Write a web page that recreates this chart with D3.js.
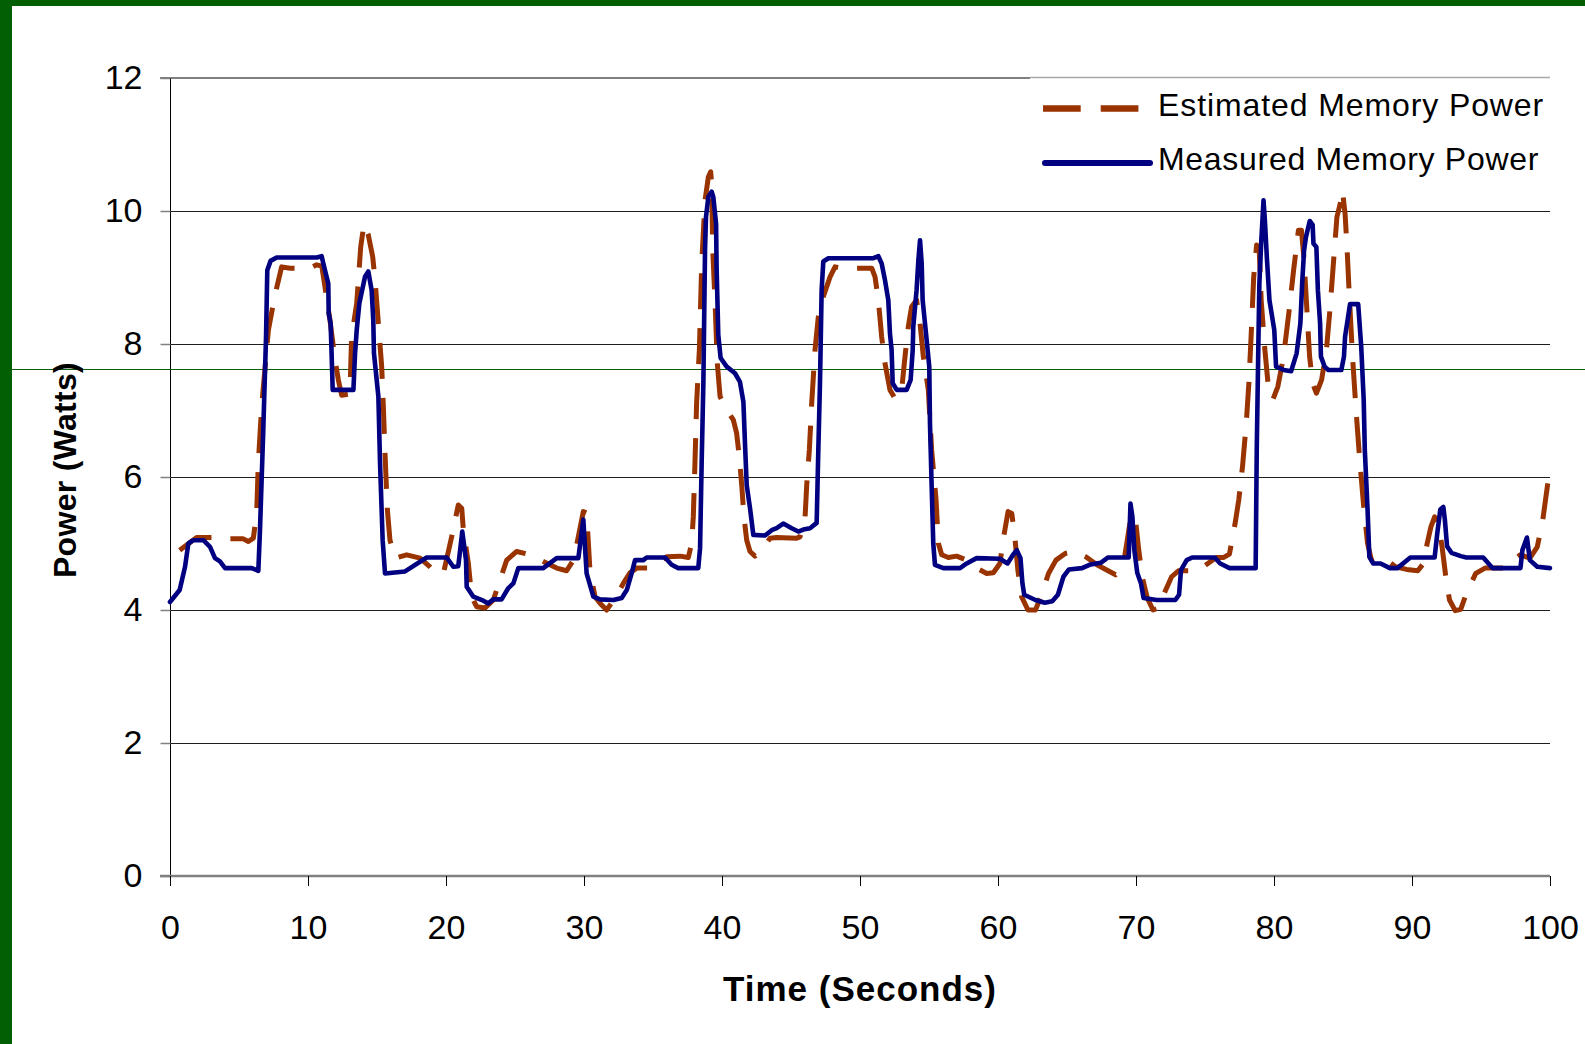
<!DOCTYPE html>
<html>
<head>
<meta charset="utf-8">
<script src="https://cdn.jsdelivr.net/npm/d3@7"></script>
<style>
  html, body { margin: 0; padding: 0; background: #ffffff; }
  svg { display: block; }
  text { font-family: "Liberation Sans", Arial, Helvetica, sans-serif; fill: #000; }
</style>
</head>
<body>
<svg id="chart" width="1585" height="1044"></svg>
<script>
// Axis ticks
const xTicks = [0, 10, 20, 30, 40, 50, 60, 70, 80, 90, 100];
const yTicks = [0, 2, 4, 6, 8, 10, 12];

// Series names
const seriesNames = ["Estimated Memory Power", "Measured Memory Power"];

// Estimated memory power (seconds, watts)
const estimatedSeconds = [
  0.7, 1.93, 3.38, 4.11, 5.31, 5.68, 6.04, 6.28, 6.4, 6.64, 7.13, 7.61, 8.09, 8.7, 10.14, 10.63, 11.0, 11.23, 11.59, 11.96,
  12.2, 12.44, 13.04, 13.16, 13.53, 13.82, 14.06, 14.37, 14.69, 14.86, 15.1, 15.34, 15.46, 15.58, 15.75, 15.94, 16.3, 17.15, 18.12, 18.84,
  19.32, 19.81, 20.41, 20.89, 21.14, 21.26, 21.62, 21.86, 22.22, 22.83, 23.43, 23.91, 24.4, 25.12, 26.09, 27.05, 28.02, 28.74, 29.23, 29.59,
  29.95, 30.19, 30.43, 30.8, 31.16, 31.64, 32.25, 32.85, 33.33, 33.82, 34.9, 35.51, 35.99, 36.96, 37.56, 37.8, 37.92, 38.04, 38.16, 38.36,
  38.53, 38.77, 39.01, 39.18, 39.25, 39.33, 39.49, 39.66, 39.86, 40.34, 40.82, 41.06, 41.25, 41.43, 41.59, 41.79, 42.03, 42.39, 42.87, 43.48,
  43.96, 45.41, 45.65, 46.01, 46.14, 46.33, 46.5, 46.74, 46.98, 47.34, 47.83, 48.19, 48.79, 50.24, 50.85, 51.09, 51.33, 51.57, 51.81, 52.17,
  52.54, 53.02, 53.26, 53.5, 53.74, 54.1, 54.35, 54.59, 54.95, 55.19, 55.51, 55.68, 55.92, 56.4, 57.0, 57.73, 58.45, 59.18, 59.66, 60.14,
  60.41, 60.73, 61.0, 61.22, 61.44, 61.71, 62.17, 62.71, 63.11, 63.66, 64.2, 64.87, 65.55, 66.36, 67.17, 67.98, 68.52, 69.06, 69.33, 69.6,
  69.93, 70.2, 70.47, 70.82, 71.23, 71.63, 72.04, 72.58, 73.07, 74.47, 75.28, 75.82, 76.36, 76.77, 77.18, 77.45, 77.72, 77.99, 78.18, 78.34,
  78.53, 78.74, 78.93, 79.07, 79.34, 79.61, 79.93, 80.28, 80.69, 81.1, 81.42, 81.77, 81.99, 82.18, 82.37, 82.58, 82.8, 83.07, 83.45, 83.8,
  84.07, 84.34, 84.56, 84.8, 84.96, 85.15, 85.29, 85.45, 85.69, 85.96, 86.23, 86.5, 86.78, 87.05, 87.45, 87.99, 88.8, 89.61, 90.42, 90.83,
  91.1, 91.37, 91.64, 91.91, 92.18, 92.45, 92.72, 93.13, 93.53, 93.94, 94.62, 95.29, 96.65, 97.32, 97.86, 98.54, 99.08, 99.48, 99.89
];
const estimatedWatts = [
  4.90, 5.09, 5.09, 5.07, 5.07, 5.03, 5.08, 5.46, 6.21, 7.06, 8.21, 8.74, 9.16, 9.14, 9.14, 9.19, 9.17, 8.86, 8.36, 7.76,
  7.46, 7.23, 7.25, 8.11, 8.61, 9.46, 9.81, 9.64, 9.31, 8.96, 8.31, 7.66, 7.06, 6.36, 5.51, 5.05, 4.78, 4.83, 4.78, 4.65,
  4.55, 4.55, 5.10, 5.58, 5.53, 5.20, 4.70, 4.20, 4.05, 4.03, 4.15, 4.45, 4.75, 4.88, 4.83, 4.73, 4.63, 4.59, 4.75, 5.10,
  5.48, 5.46, 4.60, 4.20, 4.10, 4.00, 4.18, 4.40, 4.56, 4.63, 4.63, 4.73, 4.80, 4.81, 4.79, 5.00, 5.40, 6.21, 7.11, 7.91,
  9.21, 10.16, 10.51, 10.59, 10.41, 9.41, 8.66, 7.71, 7.21, 7.01, 6.86, 6.66, 6.31, 5.88, 5.40, 5.05, 4.88, 4.81, 4.90, 5.08,
  5.09, 5.08, 5.10, 5.36, 5.88, 6.41, 7.11, 7.91, 8.41, 8.71, 9.01, 9.16, 9.14, 9.14, 9.14, 9.01, 8.66, 8.11, 7.71, 7.31,
  7.18, 7.31, 7.81, 8.26, 8.56, 8.66, 8.31, 7.81, 7.31, 6.41, 5.66, 5.00, 4.83, 4.79, 4.81, 4.75, 4.63, 4.55, 4.56, 4.70,
  5.10, 5.48, 5.45, 5.10, 4.60, 4.20, 4.00, 4.00, 4.20, 4.55, 4.75, 4.85, 4.88, 4.80, 4.68, 4.59, 4.53, 4.65, 5.00, 5.36,
  5.42, 4.90, 4.48, 4.18, 4.00, 4.03, 4.25, 4.50, 4.59, 4.59, 4.71, 4.79, 4.79, 4.84, 5.30, 5.66, 6.16, 6.81, 7.41, 8.11,
  9.01, 9.49, 9.41, 8.66, 7.91, 7.31, 7.17, 7.36, 7.81, 8.51, 9.11, 9.71, 9.71, 9.26, 8.56, 7.81, 7.41, 7.26, 7.46, 7.91,
  8.56, 9.31, 9.91, 10.11, 10.31, 9.96, 9.46, 8.76, 7.81, 6.96, 6.21, 5.56, 5.00, 4.76, 4.79, 4.78, 4.65, 4.61, 4.59, 4.70,
  5.00, 5.25, 5.40, 5.30, 4.95, 4.50, 4.15, 3.99, 4.01, 4.25, 4.55, 4.63, 4.63, 4.74, 4.83, 4.78, 4.95, 5.36, 5.98
];

// Measured memory power (seconds, watts)
const measuredSeconds = [
  0.0, 0.7, 1.09, 1.33, 1.69, 2.42, 2.9, 3.26, 3.62, 3.99, 5.92, 6.4, 6.52, 6.76, 6.96, 7.05, 7.29, 7.73, 10.63, 10.99,
  11.11, 11.47, 11.5, 11.64, 11.71, 11.79, 13.29, 13.41, 13.53, 13.72, 14.13, 14.37, 14.61, 14.73, 14.78, 15.1, 15.22, 15.41, 15.58, 17.03,
  18.6, 20.05, 20.53, 20.89, 21.18, 21.45, 21.5, 21.98, 22.7, 23.06, 23.43, 24.03, 24.52, 24.88, 25.24, 27.05, 28.02, 29.59, 29.95, 30.19,
  30.68, 31.16, 32.13, 32.73, 33.1, 33.45, 33.7, 34.3, 34.54, 35.87, 36.35, 36.83, 38.28, 38.41, 38.53, 38.65, 38.77, 38.84, 39.01, 39.25,
  39.37, 39.57, 39.61, 39.73, 39.9, 40.34, 40.94, 41.3, 41.55, 41.67, 41.79, 42.03, 42.27, 43.12, 43.6, 43.96, 44.44, 45.05, 45.53, 45.89,
  46.38, 46.86, 46.98, 47.1, 47.22, 47.34, 47.71, 50.97, 51.33, 51.57, 51.81, 52.05, 52.17, 52.29, 52.37, 52.66, 53.38, 53.67, 53.82, 53.86,
  54.1, 54.23, 54.35, 54.47, 54.54, 54.83, 55.02, 55.07, 55.19, 55.31, 55.43, 56.04, 57.25, 57.73, 58.45, 60.14, 60.69, 61.09, 61.36, 61.63,
  61.77, 61.9, 62.71, 63.39, 63.93, 64.34, 64.74, 65.14, 66.09, 66.63, 67.44, 67.98, 69.47, 69.6, 69.74, 69.88, 70.09, 70.36, 70.55, 71.5,
  72.85, 73.12, 73.26, 73.67, 74.07, 75.7, 76.1, 76.78, 78.67, 78.75, 78.86, 78.94, 79.07, 79.24, 79.34, 79.48, 79.67, 80.02, 80.15, 80.7,
  81.24, 81.64, 81.91, 82.04, 82.18, 82.31, 82.59, 82.8, 82.86, 83.07, 83.18, 83.34, 83.4, 83.67, 83.94, 84.88, 85.07, 85.15, 85.51, 86.1,
  86.32, 86.5, 86.58, 86.78, 86.91, 87.18, 87.72, 88.4, 88.94, 89.88, 91.64, 91.83, 92.05, 92.27, 92.38, 92.54, 92.86, 93.54, 93.94, 95.16,
  95.83, 97.86, 98.0, 98.33, 98.54, 99.08, 100.0
];
const measuredWatts = [
  4.12, 4.30, 4.65, 5.00, 5.05, 5.05, 4.95, 4.78, 4.73, 4.63, 4.63, 4.59, 5.20, 6.71, 8.11, 9.11, 9.25, 9.30, 9.30, 9.32,
  9.21, 8.91, 8.46, 8.31, 7.86, 7.31, 7.31, 7.86, 8.21, 8.61, 9.01, 9.09, 8.81, 8.36, 7.86, 7.21, 6.21, 5.05, 4.55, 4.58,
  4.79, 4.79, 4.65, 4.66, 5.18, 4.75, 4.35, 4.20, 4.14, 4.10, 4.16, 4.16, 4.33, 4.40, 4.63, 4.63, 4.78, 4.78, 5.36, 4.55,
  4.20, 4.16, 4.15, 4.18, 4.30, 4.55, 4.75, 4.75, 4.79, 4.79, 4.68, 4.63, 4.63, 4.93, 6.26, 7.41, 9.41, 9.91, 10.21, 10.29,
  10.21, 9.81, 9.14, 8.14, 7.79, 7.66, 7.56, 7.43, 7.13, 6.48, 5.88, 5.53, 5.13, 5.12, 5.20, 5.23, 5.30, 5.23, 5.18, 5.21,
  5.23, 5.31, 6.41, 7.41, 8.81, 9.24, 9.29, 9.29, 9.32, 9.21, 8.96, 8.66, 8.16, 7.91, 7.41, 7.31, 7.31, 7.46, 7.91, 8.26,
  8.81, 9.26, 9.56, 9.21, 8.66, 8.06, 7.66, 6.81, 5.88, 5.00, 4.68, 4.63, 4.63, 4.70, 4.78, 4.77, 4.70, 4.83, 4.90, 4.78,
  4.40, 4.23, 4.15, 4.11, 4.13, 4.23, 4.50, 4.61, 4.63, 4.68, 4.71, 4.79, 4.79, 5.60, 5.40, 4.90, 4.56, 4.40, 4.18, 4.15,
  4.15, 4.23, 4.60, 4.75, 4.79, 4.79, 4.70, 4.63, 4.63, 6.41, 7.91, 8.91, 9.51, 10.16, 9.86, 9.31, 8.66, 8.21, 7.66, 7.61,
  7.59, 7.86, 8.31, 8.91, 9.41, 9.60, 9.85, 9.79, 9.51, 9.46, 8.81, 8.31, 7.81, 7.66, 7.61, 7.61, 7.81, 8.11, 8.60, 8.60,
  7.96, 7.16, 6.41, 5.51, 4.80, 4.70, 4.70, 4.63, 4.63, 4.79, 4.79, 5.15, 5.51, 5.55, 5.36, 4.96, 4.86, 4.81, 4.79, 4.79,
  4.63, 4.63, 4.90, 5.09, 4.75, 4.65, 4.63
];

const estimated = estimatedSeconds.map((t, i) => ({ t, w: estimatedWatts[i] }));
const measured = measuredSeconds.map((t, i) => ({ t, w: measuredWatts[i] }));

const svg = d3.select("#chart");
const W = 1585, H = 1044;

const plot = { left: 170, right: 1550, top: 78, bottom: 876 };
const x = d3.scaleLinear().domain([0, 100]).range([plot.left, plot.right]);
const y = d3.scaleLinear().domain([0, 12]).range([plot.bottom, plot.top]);

// Slide frame
svg.append("rect").attr("x", 0).attr("y", 0).attr("width", W).attr("height", H).attr("fill", "#ffffff");
svg.append("rect").attr("x", 0).attr("y", 0).attr("width", 12).attr("height", H).attr("fill", "#035f03");
svg.append("rect").attr("x", 0).attr("y", 0).attr("width", W).attr("height", 6).attr("fill", "#035f03");

// Horizontal gridlines
svg.append("g")
  .selectAll("line")
  .data(yTicks.filter(v => v > 0 && v < 12))
  .join("line")
  .attr("x1", plot.left).attr("x2", plot.right)
  .attr("y1", d => Math.round(y(d)) + 0.5).attr("y2", d => Math.round(y(d)) + 0.5)
  .attr("stroke", "#1e1e1e").attr("stroke-width", 1);

// Top border of plot area
svg.append("line")
  .attr("x1", plot.left - 10).attr("x2", 1030)
  .attr("y1", y(12)).attr("y2", y(12))
  .attr("stroke", "#808080").attr("stroke-width", 2);

// Y axis
const yAxis = d3.axisLeft(y).tickValues(yTicks).tickSize(10).tickPadding(18).tickFormat(d3.format("d"));
const gy = svg.append("g").attr("transform", `translate(${plot.left + 0.5},0)`).call(yAxis);
gy.select(".domain").attr("stroke", "#000").attr("stroke-width", 1).attr("d", `M0,${plot.top}V${plot.bottom + 10}`);
gy.selectAll(".tick line").attr("stroke", "#808080").attr("stroke-width", 1.5);
gy.selectAll(".tick text").attr("font-size", 34).attr("font-family", "Liberation Sans, Arial, sans-serif").attr("fill", "#000");

// X axis
const xAxis = d3.axisBottom(x).tickValues(xTicks).tickSize(10).tickPadding(29).tickFormat(d3.format("d"));
const gx = svg.append("g").attr("transform", `translate(0,${plot.bottom})`).call(xAxis);
gx.select(".domain").attr("stroke", "#808080").attr("stroke-width", 2.5).attr("d", `M${plot.left - 10},0H${plot.right}`);
gx.selectAll(".tick line").attr("stroke", "#000").attr("stroke-width", 1);
gx.selectAll(".tick text").attr("font-size", 34).attr("font-family", "Liberation Sans, Arial, sans-serif").attr("fill", "#000");

// Thin green rule across the slide
svg.append("line")
  .attr("x1", 12).attr("x2", W)
  .attr("y1", 369.5).attr("y2", 369.5)
  .attr("stroke", "#0b5e0b").attr("stroke-width", 1.2);

// Series lines
const line = d3.line().x(d => x(d.t)).y(d => y(d.w));

svg.append("path")
  .datum(estimated)
  .attr("d", line)
  .attr("fill", "none")
  .attr("stroke", "#993300")
  .attr("stroke-width", 5)
  .attr("stroke-dasharray", "36,19")
  .attr("stroke-linejoin", "round");

svg.append("path")
  .datum(measured)
  .attr("d", line)
  .attr("fill", "none")
  .attr("stroke", "#000080")
  .attr("stroke-width", 4.6)
  .attr("stroke-linejoin", "round")
  .attr("stroke-linecap", "round");

// Legend
const lg = svg.append("g");
lg.append("rect").attr("x", 1030).attr("y", 78).attr("width", 520).attr("height", 110).attr("fill", "#ffffff");
lg.append("line").attr("x1", 1030).attr("x2", 1550).attr("y1", 77.5).attr("y2", 77.5)
  .attr("stroke", "#a8a8a8").attr("stroke-width", 1.5);
lg.append("line").attr("x1", 1043).attr("x2", 1139).attr("y1", 108.5).attr("y2", 108.5)
  .attr("stroke", "#993300").attr("stroke-width", 6.5).attr("stroke-dasharray", "37.7,20");
lg.append("line").attr("x1", 1045).attr("x2", 1150).attr("y1", 163).attr("y2", 163)
  .attr("stroke", "#000080").attr("stroke-width", 6).attr("stroke-linecap", "round");
lg.append("text").attr("x", 1158).attr("y", 116).attr("font-size", 32).attr("letter-spacing", 0.9)
  .text(seriesNames[0]);
lg.append("text").attr("x", 1158).attr("y", 170).attr("font-size", 32).attr("letter-spacing", 0.7)
  .text(seriesNames[1]);

// Axis titles
svg.append("text")
  .attr("x", 860).attr("y", 1001)
  .attr("text-anchor", "middle")
  .attr("font-size", 35).attr("font-weight", "bold").attr("letter-spacing", 1)
  .text("Time (Seconds)");

svg.append("text")
  .attr("transform", "translate(76,470) rotate(-90)")
  .attr("text-anchor", "middle")
  .attr("font-size", 32).attr("font-weight", "bold").attr("letter-spacing", 0.3)
  .text("Power (Watts)");
</script>
</body>
</html>
